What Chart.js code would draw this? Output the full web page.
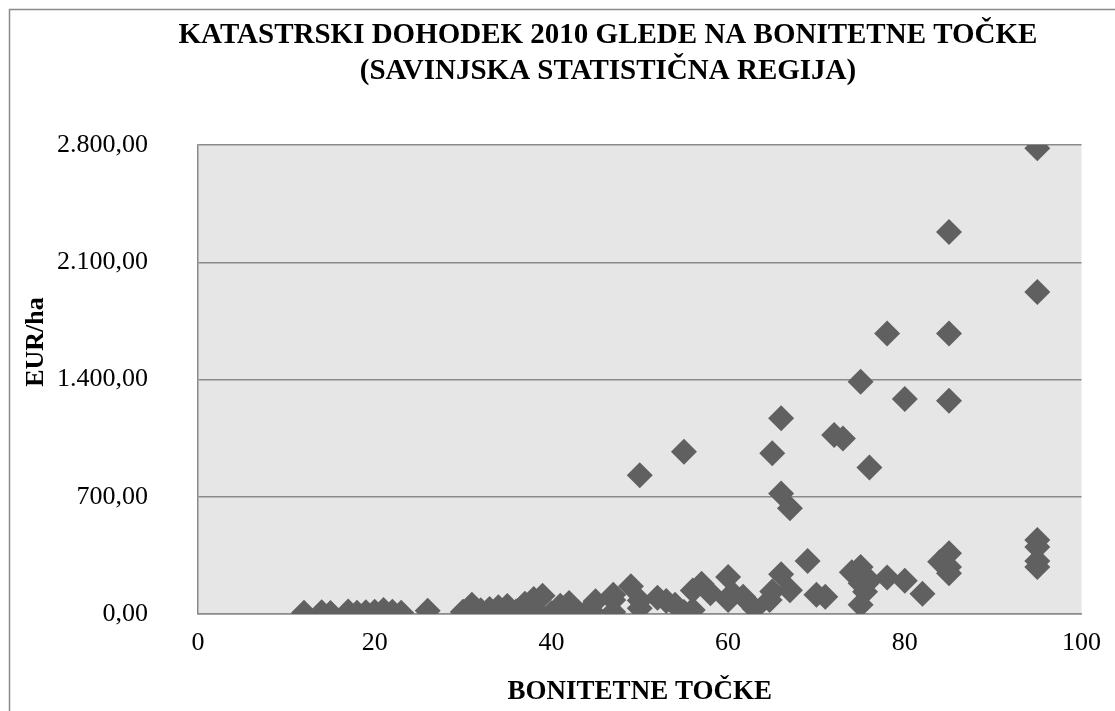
<!DOCTYPE html>
<html>
<head>
<meta charset="utf-8">
<script src="https://cdn.jsdelivr.net/npm/chart.js@4"></script>
<style>
  html, body { margin: 0; padding: 0; background: #ffffff; }
  #wrap { position: relative; width: 1115px; height: 711px; }
  canvas { display: block; }
</style>
</head>
<body>
<div id="wrap"><canvas id="c" width="1115" height="711"></canvas></div>
<script>
// Bonitetne točke (x) and katastrski dohodek 2010 in EUR/ha (y)
const bonitetneTocke = [
  12, 14, 15, 17, 18, 19, 20, 21, 22, 23, 26,
  30, 30, 31, 32, 33, 33, 34, 35, 36, 37, 38, 38, 38.5, 39, 40, 40.5, 41, 42, 43, 44, 44.5, 45, 47, 47, 47,
  49, 50, 50, 52, 53, 54, 55, 56, 56, 57, 58, 60, 60.5, 61.7, 60, 63, 64.7, 65, 66, 67, 70, 71,
  74, 75, 75, 75.5, 75, 76, 78, 80, 82, 84, 85, 85, 85, 95, 95, 95, 95,
  69, 66, 67,
  50, 55, 65, 66, 72, 73, 75, 76, 78, 80, 85, 85, 85, 95, 95
];
const dohodek = [
  8, 10, 6, 15, 8, 10, 14, 24, 14, 8, 20,
  14, 10, 55, 22, 30, 10, 40, 48, 15, 61, 89, 5, 8, 109, 5, 10, 50, 66, 10, 15, 20, 76, 115, 84, 12,
  165, 80, 35, 97, 78, 55, 12, 24, 140, 180, 124, 221, 124, 103, 84, 32, 84, 135, 238, 142, 115, 103,
  250, 280, 183, 133, 55, 200, 218, 198, 121, 312, 362, 243, 280, 442, 400, 316, 280,
  316, 720, 631,
  829, 968, 959, 1168, 1068, 1048, 1386, 875, 1675, 1283, 1273, 1675, 2281, 1923, 2780
];
const xTicks = [0, 20, 40, 60, 80, 100];
const yTicks = [0, 700, 1400, 2100, 2800];

const chartTitle = ['KATASTRSKI DOHODEK 2010 GLEDE NA BONITETNE TOČKE', '(SAVINJSKA STATISTIČNA REGIJA)'];
const xTitle = 'BONITETNE TOČKE';
const yTitle = 'EUR/ha';

const SERIF = '"Liberation Serif", "Times New Roman", serif';

function fmtEUR(v) {
  const parts = Math.round(v).toString().replace(/\B(?=(\d{3})+(?!\d))/g, '.');
  return parts + ',00';
}

const points = bonitetneTocke.map((x, i) => ({ x: x, y: dohodek[i] }));

const frame = {
  id: 'frame',
  beforeDraw(chart) {
    const { ctx, chartArea: a } = chart;
    ctx.save();
    ctx.fillStyle = '#ffffff';
    ctx.fillRect(0, 0, chart.width, chart.height);
    // outer border of the chart object
    ctx.strokeStyle = '#8a8a8a';
    ctx.lineWidth = 1.5;
    ctx.beginPath();
    ctx.moveTo(9.5, chart.height + 5);
    ctx.lineTo(9.5, 9.5);
    ctx.lineTo(chart.width + 5, 9.5);
    ctx.stroke();
    // plot area fill
    ctx.fillStyle = '#e6e6e6';
    ctx.fillRect(a.left, a.top, a.right - a.left, a.bottom - a.top);
    ctx.restore();
  },
  afterDraw(chart) {
    const { ctx } = chart;
    ctx.save();
    ctx.fillStyle = '#000000';
    ctx.textAlign = 'center';
    ctx.textBaseline = 'middle';
    ctx.font = 'bold 29px ' + SERIF;
    ctx.fillText(chartTitle[0], 608, 36);
    ctx.fillText(chartTitle[1], 608, 72);
    // vertical axis title
    ctx.font = 'bold 26px ' + SERIF;
    ctx.translate(36, 342);
    ctx.rotate(-Math.PI / 2);
    ctx.fillText(yTitle, 0, 0);
    ctx.restore();
  }
};

new Chart(document.getElementById('c'), {
  type: 'scatter',
  data: {
    datasets: [{
      data: points,
      pointStyle: 'rectRot',
      pointRadius: 13,
      pointHoverRadius: 13,
      backgroundColor: '#606060',
      borderColor: '#606060',
      borderWidth: 0
    }]
  },
  options: {
    responsive: false,
    animation: false,
    events: [],
    layout: { padding: { left: 0, right: 28, top: 145, bottom: 0 } },
    plugins: { legend: { display: false }, tooltip: { enabled: false }, title: { display: false } },
    scales: {
      x: {
        type: 'linear',
        min: 0, max: 100,
        afterBuildTicks(scale) { scale.ticks = xTicks.map(v => ({ value: v })); },
        afterFit(scale) { scale.height = 97; },
        grid: { display: false, drawTicks: false },
        border: { display: true, color: '#8a8a8a', width: 1.5 },
        ticks: { color: '#000', padding: 14, font: { family: SERIF, size: 26 }, maxRotation: 0 },
        title: { display: true, text: xTitle, color: '#000', font: { family: SERIF, size: 27, weight: 'bold' }, padding: { top: 0, bottom: 3 } }
      },
      y: {
        type: 'linear',
        min: 0, max: 2800,
        afterBuildTicks(scale) { scale.ticks = yTicks.map(v => ({ value: v })); },
        afterFit(scale) { scale.width = 198; },
        grid: { color: '#8a8a8a', lineWidth: 1.5, drawTicks: false },
        border: { display: true, color: '#8a8a8a', width: 1.5 },
        ticks: { color: '#000', padding: 50, font: { family: SERIF, size: 26 }, callback: v => fmtEUR(v) }
      }
    }
  },
  plugins: [frame]
});
</script>
</body>
</html>
